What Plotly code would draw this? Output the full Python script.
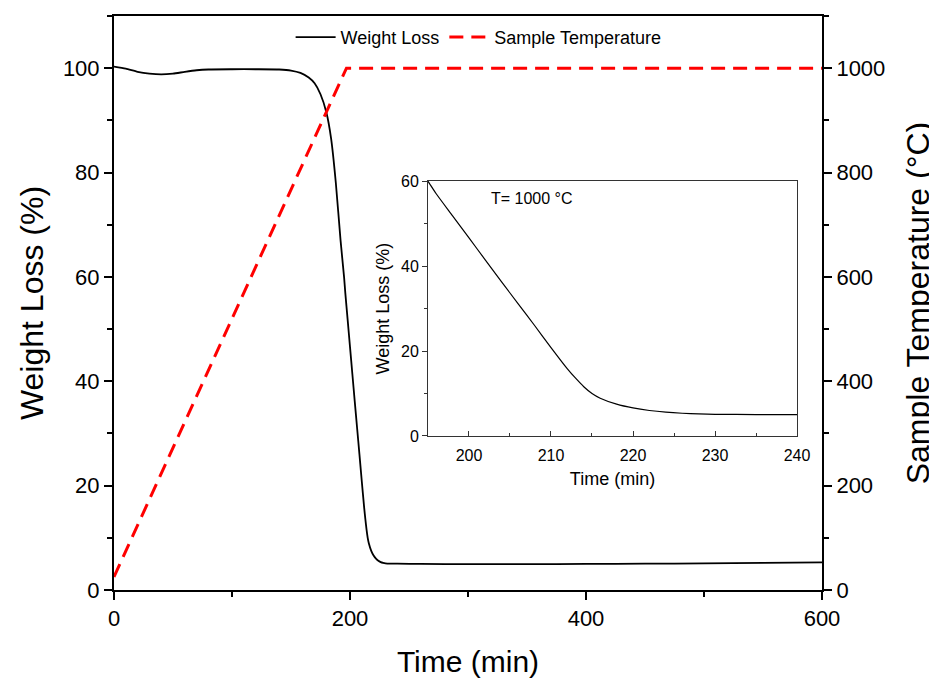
import plotly.graph_objects as go

# weight loss curve (min, %)
time_min = [0, 10, 20, 30, 40, 50, 60, 70, 80, 100, 120, 140, 150, 158, 165, 170, 175, 180,
            184, 188, 192, 195, 196, 198, 200, 202, 204, 206, 208, 210, 212, 213, 214, 215,
            216, 218, 220, 222, 224, 226, 228, 230, 235, 240, 260, 300, 350, 400, 450, 500,
            550, 600]
weight_pct = [100.3, 99.9, 99.3, 98.95, 98.8, 98.95, 99.3, 99.6, 99.75, 99.8, 99.8, 99.75,
              99.55, 99.1, 98.2, 97.1, 95.0, 91.5, 86.5, 78.0, 67.0, 59.9, 57.0, 51.8, 46.6,
              41.4, 36.2, 31.1, 26.0, 20.8, 15.8, 13.6, 11.6, 10.0, 8.9, 7.5, 6.6, 6.0, 5.6,
              5.35, 5.2, 5.1, 5.05, 5.05, 5.0, 4.95, 4.95, 5.0, 5.05, 5.1, 5.2, 5.3]

# sample temperature program
temp_time = [0, 197, 600]
temp_c = [25, 1000, 1000]

FONT = "Arial, Liberation Sans, sans-serif"

fig = go.Figure()
fig.add_trace(go.Scatter(x=time_min, y=weight_pct, mode="lines", name="Weight Loss",
                         line=dict(color="black", width=1.8, shape="spline", smoothing=0.6)))
fig.add_trace(go.Scatter(x=temp_time, y=temp_c, mode="lines", name="Sample Temperature",
                         yaxis="y2", line=dict(color="#ff0000", width=3, dash="14px,8px")))
# inset: same data, zoomed
fig.add_trace(go.Scatter(x=time_min, y=weight_pct, mode="lines", showlegend=False,
                         xaxis="x2", yaxis="y3",
                         line=dict(color="black", width=1.2, shape="spline", smoothing=0.6)))

main_ax = dict(showline=True, linecolor="black", linewidth=2, showgrid=False, zeroline=False,
               ticks="outside", ticklen=8, tickwidth=2, tickcolor="black", automargin=False,
               tickfont=dict(size=22, color="black"))
inset_ax = dict(showline=True, linecolor="#333", linewidth=1, mirror=True, showgrid=False,
                zeroline=False, tickcolor="#333", ticklen=5, automargin=False,
                tickfont=dict(size=16))

fig.update_layout(
    width=937, height=682,
    # page body adds ~8px offset, margins compensate
    margin=dict(l=106, r=123, t=8, b=100),
    plot_bgcolor="white", paper_bgcolor="white",
    font=dict(family=FONT, color="black"),
    xaxis=dict(main_ax, range=[0, 600], dtick=200, mirror=True,
               minor=dict(dtick=100, ticks="outside", ticklen=5, tickwidth=2, tickcolor="black"),
               title=dict(text="Time (min)", font=dict(size=30), standoff=21)),
    yaxis=dict(main_ax, range=[0, 110], dtick=20,
               minor=dict(dtick=10, ticks="outside", ticklen=5, tickwidth=2, tickcolor="black"),
               title=dict(text="Weight Loss (%)", font=dict(size=32), standoff=10)),
    yaxis2=dict(main_ax, range=[0, 1100], dtick=200, overlaying="y", side="right",
                minor=dict(dtick=100, ticks="outside", ticklen=5, tickwidth=2, tickcolor="black"),
                title=dict(text="Sample Temperature (°C)", font=dict(size=32), standoff=22)),
    xaxis2=dict(inset_ax, domain=[0.4435, 0.9647], anchor="y3", range=[195, 240], dtick=10,
                ticks="inside", ticklabelstandoff=5,
                minor=dict(dtick=5, ticks="inside", ticklen=3, tickcolor="#333"),
                title=dict(text="Time (min)", font=dict(size=18), standoff=9)),
    yaxis3=dict(inset_ax, domain=[0.2683, 0.7125], anchor="x2", range=[0, 60], dtick=20,
                ticks="outside",
                minor=dict(dtick=10, ticks="outside", ticklen=3, tickcolor="#333"),
                title=dict(text="Weight Loss (%)", font=dict(size=18), standoff=6)),
    legend=dict(orientation="h", x=0.515, xanchor="center", y=0.995, yanchor="top",
                font=dict(size=18), bgcolor="rgba(0,0,0,0)", itemwidth=40, tracegroupgap=0),
    annotations=[dict(text="T= 1000 °C", xref="x2", yref="y3", x=202.5, y=56,
                      xanchor="left", yanchor="middle", showarrow=False, font=dict(size=16))],
)

fig.write_html("out.html")
